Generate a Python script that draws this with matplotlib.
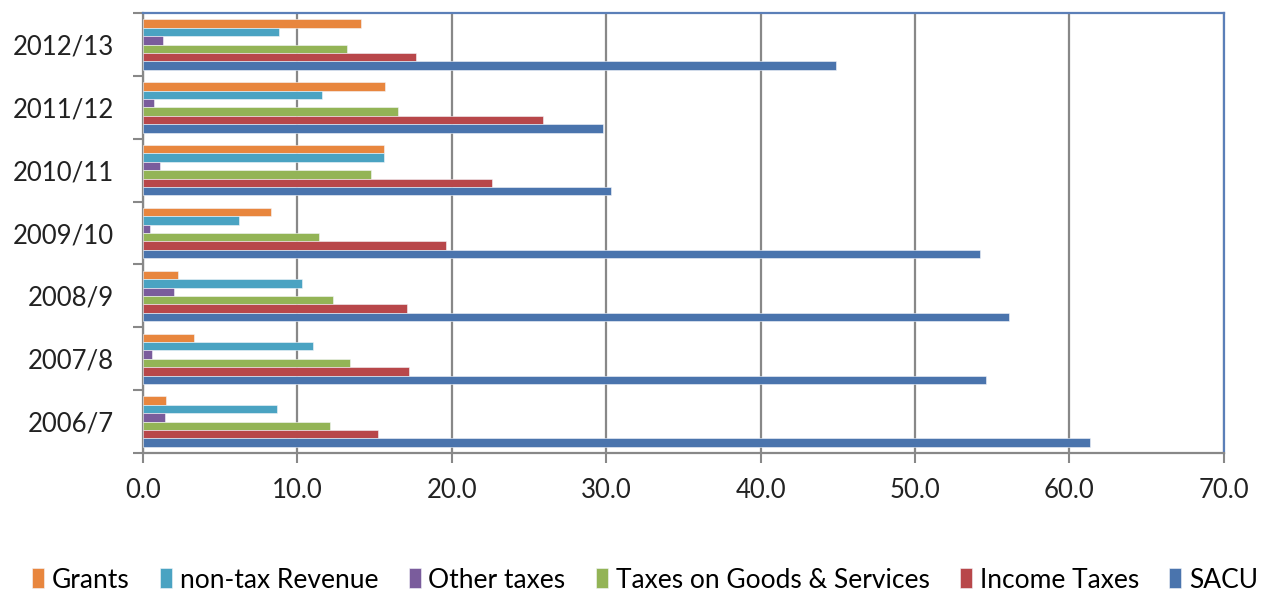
import numpy as np
import matplotlib.pyplot as plt

plt.rcParams['font.family'] = ['Lato', 'DejaVu Sans']

years = ['2006/7', '2007/8', '2008/9', '2009/10', '2010/11', '2011/12', '2012/13']
series = ['Grants', 'non-tax Revenue', 'Other taxes', 'Taxes on Goods & Services', 'Income Taxes', 'SACU']

grants = [1.5, 3.3, 2.3, 8.3, 15.6, 15.7, 14.1]
non_tax = [8.7, 11.0, 10.3, 6.2, 15.6, 11.6, 8.8]
other_taxes = [1.4, 0.6, 2.0, 0.45, 1.1, 0.7, 1.3]
goods_services = [12.1, 13.4, 12.3, 11.4, 14.8, 16.5, 13.2]
income_taxes = [15.2, 17.2, 17.1, 19.6, 22.6, 25.9, 17.7]
sacu = [61.3, 54.6, 56.1, 54.2, 30.3, 29.8, 44.9]

values = [grants, non_tax, other_taxes, goods_services, income_taxes, sacu]
colors = ['#E8863E', '#4AA3C2', '#7A5C9C', '#93B456', '#B8474A', '#4A74AD']

fig = plt.figure(figsize=(12.65, 5.97), dpi=100)
ax = fig.add_axes([0.113, 0.2412, 0.8545, 0.7368])

y = np.arange(len(years))
slot = 0.8 / 6
for i, (name, vals) in enumerate(zip(series, values)):
    ax.barh(y + (2.5 - i) * slot, vals, height=slot, color=colors[i],
            edgecolor='#f4f6fa', linewidth=0.4, label=name, zorder=3)

ax.set_xlim(0, 70)
ax.set_ylim(-0.5, 6.5)
ax.set_xticks(np.arange(0, 71, 10))
ax.set_xticklabels(['%.1f' % v for v in np.arange(0, 71, 10)], fontsize=18.5, color='#222222')
ax.set_yticks(y)
ax.set_yticklabels(years, fontsize=18.5, color='#222222')
ax.set_yticks(np.arange(-0.5, 7, 1), minor=True)
ax.tick_params(axis='y', which='major', length=0, pad=21)
ax.tick_params(axis='y', which='minor', length=7, width=1.5, color='#888888')
ax.tick_params(axis='x', length=7, width=1.5, color='#888888', pad=11)

ax.grid(axis='x', color='#888888', linewidth=1.6, zorder=0)
for s in ['left', 'bottom']:
    ax.spines[s].set_color('#888888')
    ax.spines[s].set_linewidth(1.6)
for s in ['top', 'right']:
    ax.spines[s].set_color('#5B7FB8')
    ax.spines[s].set_linewidth(1.6)

fig.legend(loc='center', bbox_to_anchor=(0.51, 1 - 580 / 597), ncol=6, frameon=False,
           fontsize=19, handlelength=0.45, handleheight=0.8, handletextpad=0.3,
           columnspacing=1.15)

fig.savefig('out.png', dpi=100)
